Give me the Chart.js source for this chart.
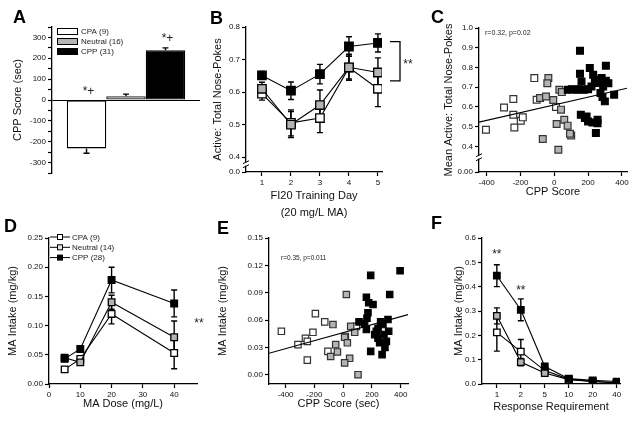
<!DOCTYPE html>
<html lang="en">
<head>
    <meta charset="UTF-8">
    <title>CPP score and MA intake</title>
    <script src="https://cdn.jsdelivr.net/npm/chart.js@4"></script>
    <style>
        body { margin: 0; background: #fff; font-family: Arial, "Liberation Sans", sans-serif; }
        #fig { position: relative; width: 635px; height: 421px; overflow: hidden; }
        canvas { position: absolute; }
        .letter { position: absolute; font-size: 18px; font-weight: bold; line-height: 1; color: #000; }
    </style>
</head>
<body>
<div id="fig">
    <canvas id="chartA" width="205" height="205" style="left:0;top:0"></canvas>
    <canvas id="chartB" width="210" height="222" style="left:205px;top:0"></canvas>
    <canvas id="chartC" width="220" height="205" style="left:415px;top:0"></canvas>
    <canvas id="chartD" width="205" height="216" style="left:0;top:205px"></canvas>
    <canvas id="chartE" width="210" height="216" style="left:205px;top:205px"></canvas>
    <canvas id="chartF" width="220" height="216" style="left:415px;top:205px"></canvas>
    <div class="letter" style="left:13px;top:8px">A</div>
    <div class="letter" style="left:210px;top:9px">B</div>
    <div class="letter" style="left:431px;top:8px">C</div>
    <div class="letter" style="left:4px;top:217px">D</div>
    <div class="letter" style="left:217px;top:219px">E</div>
    <div class="letter" style="left:431px;top:214px">F</div>
</div>

<script>
    // ---- A : CPP score per group
    const groupsA = ['CPA (9)', 'Neutral (16)', 'CPP (31)'];
    const cppScore = [-232, 18, 238];
    const cppScoreErr = [23, 10, 12];
    const ticksA = [-350, -300, -250, -200, -150, -100, -50, 0, 50, 100, 150, 200, 250, 300, 350];

    // ---- B : active/total nose-pokes per training day
    const trainingDays = [1, 2, 3, 4, 5];
    const bCPP = [0.651, 0.604, 0.655, 0.740, 0.751];
    const bCPPErr = [0.012, 0.027, 0.03, 0.03, 0.028];
    const bNeutral = [0.610, 0.500, 0.560, 0.676, 0.660];
    const bNeutralErr = [0.02, 0.04, 0.046, 0.04, 0.045];
    const bCPA = [0.595, 0.505, 0.520, 0.675, 0.610];
    const bCPAErr = [0.02, 0.04, 0.045, 0.035, 0.055];
    const ticksB = [0.354, 0.4, 0.5, 0.6, 0.7, 0.8];
    const bracketB = [0.755, 0.634];

    // ---- C : mean active/total nose-pokes vs CPP score
    const cWhiteX = [-404, -297, -242, -242, -236, -198, -186, -118, -104, 10, 100];
    const cWhiteY = [0.484, 0.597, 0.640, 0.560, 0.496, 0.530, 0.547, 0.746, 0.636, 0.600, 0.455];
    const cGrayX = [-84, -49, -35, -41, 30, 40, 14, 59, 79, 93, -68, 24, -6, 45];
    const cGrayY = [0.645, 0.653, 0.746, 0.720, 0.687, 0.586, 0.513, 0.535, 0.505, 0.464, 0.437, 0.383, 0.635, 0.675];
    const cBlackX = [152, 152, 161, 80, 105, 130, 150, 175, 200, 210, 230, 240, 260, 280, 305, 305, 289, 273, 220, 285, 299, 354, 157, 181, 200, 226, 256, 256, 246, 191, 320];
    const cBlackY = [0.885, 0.768, 0.729, 0.687, 0.690, 0.687, 0.690, 0.687, 0.690, 0.797, 0.763, 0.738, 0.721, 0.746, 0.809, 0.733, 0.704, 0.670, 0.704, 0.650, 0.628, 0.662, 0.560, 0.544, 0.526, 0.521, 0.535, 0.517, 0.468, 0.552, 0.720];
    const cLineX = [-445, 430];
    const cLineY = [0.523, 0.695];
    const ticksCX = [-400, -200, 0, 200, 400];
    const ticksCY = [0.27, 0.4, 0.5, 0.6, 0.7, 0.8, 0.9, 1.0];

    // ---- D : MA intake per dose
    const doses = [5, 10, 20, 40];
    const dCPP = [0.043, 0.060, 0.178, 0.138];
    const dCPPErr = [0.004, 0.005, 0.022, 0.023];
    const dNeutral = [0.045, 0.037, 0.140, 0.080];
    const dNeutralErr = [0.004, 0.005, 0.012, 0.028];
    const dCPA = [0.025, 0.043, 0.120, 0.053];
    const dCPAErr = [0.004, 0.005, 0.017, 0.027];
    const ticksDX = [0, 10, 20, 30, 40];
    const ticksDY = [0, 0.05, 0.10, 0.15, 0.20, 0.25];

    // ---- E : MA intake vs CPP score
    const eWhiteX = [-429, -314, -262, -249, -210, -193, -128, -249, -106, 15, 92];
    const eWhiteY = [0.0476, 0.033, 0.040, 0.0366, 0.0465, 0.067, 0.058, 0.016, 0.0256, 0.042, 0.053];
    const eGrayX = [-71, -87, -52, -40, 10, 29, 22, 45, 10, 52, 80, 103];
    const eGrayY = [0.055, 0.020, 0.033, 0.025, 0.041, 0.035, 0.088, 0.018, 0.013, 0.053, 0.0465, 0.0];
    const eBlackX = [191, 395, 323, 161, 177, 207, 172, 110, 149, 161, 191, 230, 242, 253, 270, 300, 276, 311, 316, 283, 242, 260, 219, 165, 290];
    const eBlackY = [0.109, 0.114, 0.088, 0.085, 0.079, 0.077, 0.068, 0.058, 0.0557, 0.0495, 0.0256, 0.0476, 0.040, 0.035, 0.022, 0.0366, 0.055, 0.0605, 0.0476, 0.044, 0.051, 0.058, 0.044, 0.062, 0.030];
    const eLineX = [-515, 450];
    const eLineY = [0.0235, 0.066];
    const ticksEY = [0, 0.03, 0.06, 0.09, 0.12, 0.15];

    // ---- F : MA intake per response requirement
    const ratios = ['1', '2', '5', '10', '20', '40'];
    const fCPP = [0.445, 0.305, 0.072, 0.022, 0.015, 0.010];
    const fCPPErr = [0.045, 0.045, 0.01, 0.004, 0.003, 0.002];
    const fNeutral = [0.280, 0.090, 0.045, 0.018, 0.010, 0.005];
    const fNeutralErr = [0.033, 0.015, 0.006, 0.003, 0.002, 0.002];
    const fCPA = [0.212, 0.133, 0.055, 0.020, 0.010, 0.005];
    const fCPAErr = [0.077, 0.05, 0.01, 0.004, 0.002, 0.002];
    const ticksFY = [0, 0.1, 0.2, 0.3, 0.4, 0.5, 0.6];

    const GRAY = '#b4b4b4';
    Chart.defaults.font.family = 'Arial, "Liberation Sans", sans-serif';
    Chart.defaults.font.size = 8;
    Chart.defaults.color = '#111';
    Chart.defaults.animation = false;
    Chart.defaults.responsive = false;
    Chart.defaults.plugins.legend.display = false;
    Chart.defaults.plugins.tooltip.enabled = false;

    // error bars drawn from the dataset's "errors" array
    const errorBars = {
        id: 'errorBars',
        beforeDatasetsDraw(chart) {
            const ctx = chart.ctx, ys = chart.scales.y;
            chart.data.datasets.forEach((ds, i) => {
                if (!ds.errors) return;
                chart.getDatasetMeta(i).data.forEach((el, j) => {
                    const v = typeof ds.data[j] === 'object' ? ds.data[j].y : ds.data[j];
                    const e = ds.errors[j];
                    let top = ys.getPixelForValue(v + e), bot = ys.getPixelForValue(v - e);
                    if (ds.oneSided) {
                        if (v >= 0) bot = ys.getPixelForValue(v); else top = ys.getPixelForValue(v);
                    }
                    const cap = ds.cap || 3;
                    ctx.save();
                    ctx.strokeStyle = '#000';
                    ctx.lineWidth = 1.4;
                    ctx.beginPath();
                    ctx.moveTo(el.x, top); ctx.lineTo(el.x, bot);
                    if (!ds.oneSided || v >= 0) { ctx.moveTo(el.x - cap, top); ctx.lineTo(el.x + cap, top); }
                    if (!ds.oneSided || v < 0) { ctx.moveTo(el.x - cap, bot); ctx.lineTo(el.x + cap, bot); }
                    ctx.stroke();
                    ctx.restore();
                });
            });
        }
    };
    Chart.register(errorBars);

    function drawBreak(chart, value) {
        const ctx = chart.ctx;
        const y = chart.scales.y.getPixelForValue(value);
        const x = chart.chartArea.left;
        ctx.save();
        ctx.fillStyle = '#fff';
        ctx.fillRect(x - 1.5, y - 1.5, 3, 3);
        ctx.strokeStyle = '#000';
        ctx.lineWidth = 1;
        ctx.beginPath();
        ctx.moveTo(x - 3, y - 0.5); ctx.lineTo(x + 3, y - 3.5);
        ctx.moveTo(x - 3, y + 3.5); ctx.lineTo(x + 3, y + 0.5);
        ctx.stroke();
        ctx.restore();
    }

    function text(ctx, str, x, y, size, align) {
        ctx.save();
        ctx.fillStyle = '#222';
        ctx.font = size + 'px Arial, "Liberation Sans", sans-serif';
        ctx.textAlign = align || 'center';
        ctx.textBaseline = 'middle';
        ctx.fillText(str, x, y);
        ctx.restore();
    }

    function yAxis(o) {
        return {
            type: 'linear', min: o.min, max: o.max,
            afterBuildTicks: s => { s.ticks = o.ticks.map(v => ({ value: v })); },
            afterFit: s => { s.width = o.width; },
            ticks: { callback: o.label, padding: 2, autoSkip: false },
            grid: { drawOnChartArea: !!o.gridColor, color: o.gridColor || '#000', tickLength: 4, tickColor: '#000', tickWidth: 1.2 },
            border: { color: '#000', width: 1.3 },
            title: { display: true, text: o.title, color: '#111', font: { size: 11 }, padding: { top: o.titlePad, bottom: 0 } }
        };
    }

    function xAxis(o) {
        return {
            type: 'linear', min: o.min, max: o.max,
            afterBuildTicks: s => { s.ticks = o.ticks.map(v => ({ value: v })); },
            afterFit: s => { s.height = o.height; },
            ticks: { callback: o.label || (v => v), padding: 2, maxRotation: 0, autoSkip: false },
            grid: { drawOnChartArea: false, tickLength: 4, tickColor: '#000', tickWidth: 1.2 },
            border: { color: '#000', width: 1.3 },
            title: { display: true, text: o.title, color: '#111', font: { size: 11, lineHeight: 1.6 }, padding: { top: 0, bottom: o.titlePad } }
        };
    }

    function series(xs, ys) { return xs.map((x, i) => ({ x: x, y: ys[i] })); }

    function lineSet(xs, ys, errs, fill, r) {
        return {
            data: series(xs, ys), errors: errs, cap: 3,
            borderColor: '#000', borderWidth: 1.1,
            pointStyle: 'rect', pointRadius: r, pointBackgroundColor: fill,
            pointBorderColor: '#000', pointBorderWidth: 1.3
        };
    }

    function dotSet(xs, ys, fill, r) {
        return {
            data: series(xs, ys), showLine: false,
            pointStyle: 'rect', pointRadius: r, pointBackgroundColor: fill,
            pointBorderColor: fill === '#000' ? '#000' : '#333', pointBorderWidth: 1.2
        };
    }

    // ---------- A
    new Chart(document.getElementById('chartA'), {
        type: 'bar',
        data: {
            labels: [''],
            datasets: [
                { data: [cppScore[0]], errors: [cppScoreErr[0]], oneSided: true, backgroundColor: '#fff', borderColor: '#000', borderWidth: 1.3, borderSkipped: false },
                { data: [cppScore[1]], errors: [cppScoreErr[1]], oneSided: true, backgroundColor: GRAY, borderColor: '#222', borderWidth: 1.3, borderSkipped: false },
                { data: [cppScore[2]], errors: [cppScoreErr[2]], oneSided: true, backgroundColor: '#000', borderColor: '#000', borderWidth: 1.3, borderSkipped: false }
            ]
        },
        options: {
            layout: { padding: { top: 27, right: 5, bottom: 32, left: 0 } },
            datasets: { bar: { barPercentage: 1, categoryPercentage: 0.8 } },
            scales: {
                x: { display: false },
                y: yAxis({
                    min: -350, max: 350, ticks: ticksA, width: 52, titlePad: 11, title: 'CPP Score (sec)',
                    label: v => (v % 100 === 0 ? v : ''),
                    gridColor: c => (c.tick && c.tick.value === 0 ? '#000' : 'rgba(0,0,0,0)')
                })
            }
        },
        plugins: [{
            id: 'notesA',
            afterDraw(chart) {
                const ctx = chart.ctx, ys = chart.scales.y;
                const fills = ['#fff', GRAY, '#000'];
                groupsA.forEach((g, i) => {
                    const y = 28 + i * 10;
                    ctx.save();
                    ctx.fillStyle = fills[i];
                    ctx.strokeStyle = '#000';
                    ctx.lineWidth = 1;
                    ctx.fillRect(57, y, 21, 6);
                    ctx.strokeRect(57.5, y + 0.5, 20, 6);
                    ctx.restore();
                    text(ctx, g, 81, y + 3.5, 8, 'left');
                });
                const a = chart.getDatasetMeta(0).data[0];
                const c = chart.getDatasetMeta(2).data[0];
                text(ctx, '*+', a.x + 2, ys.getPixelForValue(0) - 8, 12);
                text(ctx, '*+', c.x + 2, ys.getPixelForValue(cppScore[2] + cppScoreErr[2]) - 9, 12);
            }
        }]
    });

    // ---------- B
    new Chart(document.getElementById('chartB'), {
        type: 'line',
        data: {
            datasets: [
                lineSet(trainingDays, bCPP, bCPPErr, '#000', 6),
                lineSet(trainingDays, bNeutral, bNeutralErr, GRAY, 6),
                lineSet(trainingDays, bCPA, bCPAErr, '#fff', 6)
            ]
        },
        options: {
            layout: { padding: { top: 27, right: 33, bottom: 0, left: 0 } },
            scales: {
                x: xAxis({ min: 0.45, max: 5.14, ticks: trainingDays, height: 50, titlePad: 0, title: ['FI20 Training Day', '(20 mg/L MA)'] }),
                y: yAxis({
                    min: 0.354, max: 0.8, ticks: ticksB, width: 41, titlePad: 6, title: 'Active: Total Nose-Pokes',
                    label: v => (v < 0.39 ? '0.0' : v.toFixed(1))
                })
            }
        },
        plugins: [{
            id: 'notesB',
            afterDraw(chart) {
                const ctx = chart.ctx, ys = chart.scales.y, r = chart.chartArea.right;
                drawBreak(chart, 0.378);
                const y1 = ys.getPixelForValue(bracketB[0]), y2 = ys.getPixelForValue(bracketB[1]);
                ctx.save();
                ctx.strokeStyle = '#000';
                ctx.lineWidth = 1.3;
                ctx.beginPath();
                ctx.moveTo(r + 8, y1); ctx.lineTo(r + 18, y1); ctx.lineTo(r + 18, y2); ctx.lineTo(r + 8, y2);
                ctx.stroke();
                ctx.restore();
                text(ctx, '**', r + 26, (y1 + y2) / 2 + 3, 12);
            }
        }]
    });

    // ---------- C
    new Chart(document.getElementById('chartC'), {
        type: 'scatter',
        data: {
            datasets: [
                dotSet(cBlackX, cBlackY, '#000', 4.8),
                { type: 'line', data: series(cLineX, cLineY), borderColor: '#000', borderWidth: 1.1, pointRadius: 0 },
                dotSet(cGrayX, cGrayY, GRAY, 4.8),
                dotSet(cWhiteX, cWhiteY, '#fff', 4.8)
            ]
        },
        options: {
            layout: { padding: { top: 28, right: 8, bottom: 0, left: 0 } },
            scales: {
                x: xAxis({ min: -445, max: 430, ticks: ticksCX, height: 33, titlePad: 4, title: 'CPP Score' }),
                y: yAxis({
                    min: 0.27, max: 1.0, ticks: ticksCY, width: 64, titlePad: 27, title: 'Mean Active: Total Nose-Pokes',
                    label: v => (v < 0.3 ? '0.00' : v.toFixed(1))
                })
            }
        },
        plugins: [{
            id: 'notesC',
            afterDraw(chart) {
                drawBreak(chart, 0.345);
                text(chart.ctx, 'r=0.32, p=0.02', 70, 33, 7, 'left');
            }
        }]
    });

    // ---------- D
    new Chart(document.getElementById('chartD'), {
        type: 'line',
        data: {
            datasets: [
                lineSet(doses, dCPP, dCPPErr, '#000', 4.7),
                lineSet(doses, dNeutral, dNeutralErr, GRAY, 4.7),
                lineSet(doses, dCPA, dCPAErr, '#fff', 4.7)
            ]
        },
        options: {
            layout: { padding: { top: 33, right: 8, bottom: 0, left: 0 } },
            scales: {
                x: xAxis({ min: 0, max: 47.3, ticks: ticksDX, height: 37, titlePad: 8, title: 'MA Dose (mg/L)' }),
                y: yAxis({ min: 0, max: 0.25, ticks: ticksDY, width: 49, titlePad: 6, title: 'MA Intake (mg/kg)', label: v => v.toFixed(2) })
            }
        },
        plugins: [{
            id: 'notesD',
            afterDraw(chart) {
                const ctx = chart.ctx;
                const names = ['CPA (9)', 'Neutral (14)', 'CPP (28)'];
                const fills = ['#fff', '#e6e6e6', '#000'];
                names.forEach((n, i) => {
                    const y = 32 + i * 10.3;
                    ctx.save();
                    ctx.strokeStyle = '#000';
                    ctx.lineWidth = 1;
                    ctx.beginPath(); ctx.moveTo(50, y); ctx.lineTo(70, y); ctx.stroke();
                    ctx.fillStyle = fills[i];
                    ctx.fillRect(57.5, y - 2.5, 5, 5);
                    ctx.strokeRect(57.5, y - 2.5, 5, 5);
                    ctx.restore();
                    text(ctx, n, 72, y + 0.5, 8, 'left');
                });
                text(ctx, '**', 199, chart.scales.y.getPixelForValue(0.104), 12);
            }
        }]
    });

    // ---------- E
    new Chart(document.getElementById('chartE'), {
        type: 'scatter',
        data: {
            datasets: [
                dotSet(eBlackX, eBlackY, '#000', 4.5),
                { type: 'line', data: series(eLineX, eLineY), borderColor: '#000', borderWidth: 1.1, pointRadius: 0 },
                dotSet(eGrayX, eGrayY, GRAY, 4.5),
                dotSet(eWhiteX, eWhiteY, '#fff', 4.5)
            ]
        },
        options: {
            layout: { padding: { top: 33, right: 7, bottom: 0, left: 0 } },
            scales: {
                x: xAxis({ min: -515, max: 450, ticks: ticksCX, height: 37, titlePad: 8, title: 'CPP Score (sec)' }),
                y: yAxis({ min: -0.0102, max: 0.15, ticks: ticksEY, width: 64, titlePad: 11, title: 'MA Intake (mg/kg)', label: v => v.toFixed(2) })
            }
        },
        plugins: [{
            id: 'notesE',
            afterDraw(chart) {
                text(chart.ctx, 'r=0.35, p=0.011', 76, 53, 6.5, 'left');
            }
        }]
    });

    // ---------- F
    const ratioIdx = ratios.map((r, i) => i);
    new Chart(document.getElementById('chartF'), {
        type: 'line',
        data: {
            datasets: [
                lineSet(ratioIdx, fCPP, fCPPErr, '#000', 4.6),
                lineSet(ratioIdx, fNeutral, fNeutralErr, GRAY, 4.6),
                lineSet(ratioIdx, fCPA, fCPAErr, '#fff', 4.6)
            ]
        },
        options: {
            layout: { padding: { top: 33, right: 15, bottom: 0, left: 0 } },
            scales: {
                x: xAxis({ min: -0.62, max: 5.14, ticks: ratioIdx, height: 37, titlePad: 5, title: 'Response Requirement', label: v => ratios[v] }),
                y: yAxis({ min: 0, max: 0.6, ticks: ticksFY, width: 67, titlePad: 37, title: 'MA Intake (mg/kg)', label: v => v.toFixed(1) })
            }
        },
        plugins: [{
            id: 'notesF',
            afterDraw(chart) {
                const xs = chart.scales.x, ys = chart.scales.y;
                text(chart.ctx, '**', xs.getPixelForValue(0), ys.getPixelForValue(0.53), 12);
                text(chart.ctx, '**', xs.getPixelForValue(1), ys.getPixelForValue(0.385), 12);
            }
        }]
    });
</script>
</body>
</html>
